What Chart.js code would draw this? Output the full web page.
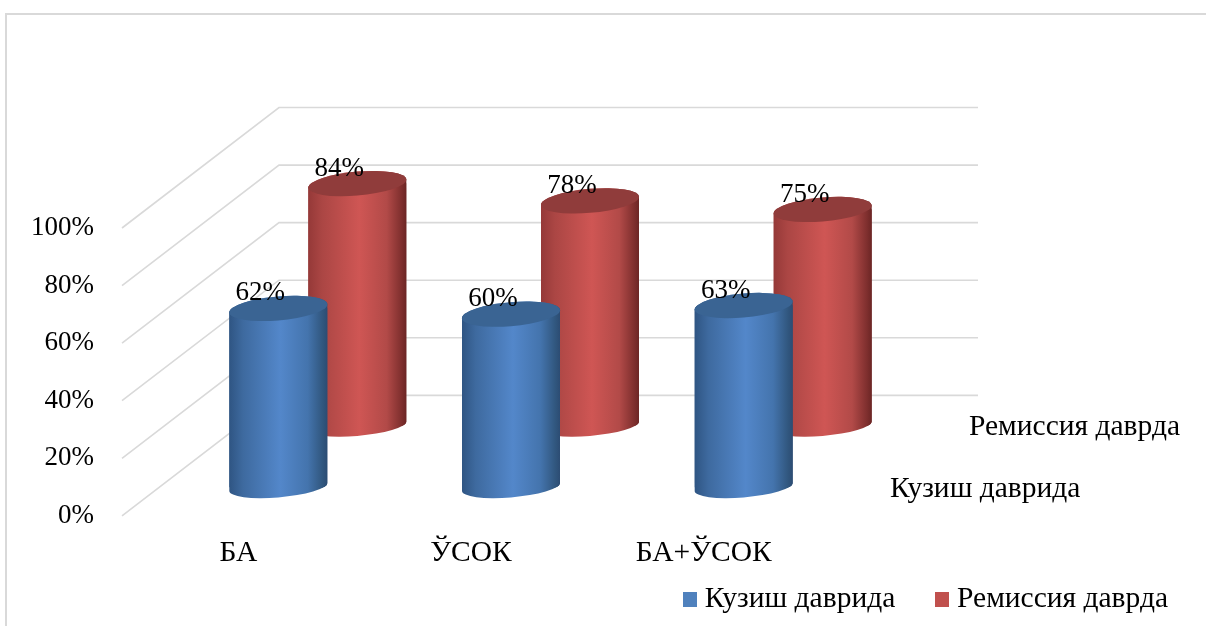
<!DOCTYPE html>
<html><head><meta charset="utf-8">
<style>html,body{margin:0;padding:0;background:#fff}#w{width:1206px;height:626px;position:relative}</style>
<script src="https://cdn.jsdelivr.net/npm/chart.js@4"></script>
</head><body><div id="w"><canvas id="c" width="1206" height="626"></canvas></div>
<script>
const categories = ['БА', 'ЎСОК', 'БА+ЎСОК'];
const seriesNames = ['Кузиш даврида', 'Ремиссия даврда'];
const acuteValues = [62, 60, 63];
const remissionValues = [84, 78, 75];
const axisTicks = [0, 20, 40, 60, 80, 100];

const FONT = '"Liberation Serif","Times New Roman",serif';
const FS = 27, FS_TEXT = 29.5;
const BACK = {dx: 157, dy: -120.5};
const DEPTH = [{dx: 40, dy: -29}, {dx: 119, dy: -90.5}];
const RX = 49, RY = 12, RY_BOTTOM = 10.5, TILT = 4, BAR = 98;
const STOPS = [
  [[0,'#2f5583'],[.14,'#3e6a9f'],[.52,'#5387ca'],[.8,'#4474ad'],[.95,'#31577f'],[1,'#2c4c73']],
  [[0,'#953938'],[.14,'#ab4644'],[.52,'#cf5654'],[.8,'#b24a48'],[.95,'#7f2f2e'],[1,'#6c2625']]
];
const CAPS = ['#3a6493', '#903c3b'];
const LEGEND = ['#4f81bd', '#c0504d'];
const GRID = '#d9d9d9';

function sideGrad(ctx, cx, i) {
  const g = ctx.createLinearGradient(cx - RX, 0, cx + RX, 0);
  STOPS[i].forEach(s => g.addColorStop(s[0], s[1]));
  return g;
}
function bodyPath(ctx, el) {
  ctx.save();
  ctx.transform(1, -TILT / RX, 0, 1, el.x, 0);
  ctx.moveTo(-RX, el.y);
  ctx.ellipse(0, el.y, RX, RY, 0, Math.PI, 2 * Math.PI, false);
  ctx.ellipse(0, el.base, RX, RY_BOTTOM, 0, 0, Math.PI, false);
  ctx.closePath();
  ctx.restore();
}
function legendBox(color) {
  const c = document.createElement('canvas');
  c.width = 14; c.height = 15;
  const x = c.getContext('2d'); x.fillStyle = color; x.fillRect(0, 0, 14, 15);
  return c;
}
const cylinders = {
  id: 'cylinders',
  afterLayout(chart) {
    const x = chart.scales.x;
    x.bottom = x.top + 70;
  },
  beforeDatasetsDraw(chart) {
    const {ctx, chartArea: a, scales: {y}} = chart;
    ctx.save();
    ctx.strokeStyle = GRID; ctx.lineWidth = 2;
    ctx.beginPath();
    ctx.moveTo(6, 626); ctx.lineTo(6, 14); ctx.lineTo(1206, 14);
    ctx.stroke();
    ctx.lineWidth = 1.6;
    axisTicks.forEach(t => {
      const py = y.getPixelForValue(t);
      ctx.beginPath();
      ctx.moveTo(a.left, py);
      ctx.lineTo(a.left + BACK.dx, py + BACK.dy);
      ctx.lineTo(a.right + BACK.dx + 1, py + BACK.dy);
      ctx.stroke();
    });
    ctx.restore();
  },
  beforeDatasetDraw(chart, args) {
    const {ctx} = chart, i = args.index, d = DEPTH[i];
    ctx.save();
    ctx.translate(d.dx, d.dy);
    args.meta.data.forEach(el => {
      ctx.beginPath();
      bodyPath(ctx, el);
      ctx.fillStyle = sideGrad(ctx, el.x, i);
      ctx.fill();
    });
    ctx.beginPath();
    args.meta.data.forEach(el => bodyPath(ctx, el));
    ctx.clip();
  },
  afterDatasetDraw(chart, args) {
    const {ctx} = chart, i = args.index, d = DEPTH[i];
    ctx.restore();
    ctx.save();
    ctx.translate(d.dx, d.dy);
    args.meta.data.forEach(el => {
      ctx.save();
      ctx.transform(1, -TILT / RX, 0, 1, el.x, el.y);
      ctx.beginPath();
      ctx.ellipse(0, 0, RX, RY, 0, 0, 2 * Math.PI);
      ctx.restore();
      ctx.fillStyle = CAPS[i];
      ctx.fill();
    });
    ctx.restore();
  },
  afterDatasetsDraw(chart) {
    const {ctx, chartArea: a} = chart;
    ctx.save();
    ctx.fillStyle = '#000';
    ctx.textBaseline = 'middle';
    ctx.textAlign = 'center';
    ctx.font = FS + 'px ' + FONT;
    chart.data.datasets.forEach((ds, i) => {
      const d = DEPTH[i];
      chart.getDatasetMeta(i).data.forEach((el, k) => {
        ctx.fillText(ds.data[k] + '%', el.x + d.dx - 18, el.y + d.dy - 15);
      });
    });
    ctx.textAlign = 'left';
    ctx.font = FS_TEXT + 'px ' + FONT;
    chart.data.datasets.forEach((ds, i) => {
      const d = DEPTH[i];
      ctx.fillText(ds.label, a.right + d.dx + 30, a.bottom + d.dy + 2);
    });
    ctx.restore();
  }
};

new Chart(document.getElementById('c'), {
  type: 'bar',
  data: {
    labels: categories,
    datasets: [acuteValues, remissionValues].map((vals, i) => ({
      label: seriesNames[i],
      data: vals,
      clip: false,
      grouped: false,
      barThickness: BAR,
      borderWidth: 0,
      backgroundColor: c => {
        const x = c.chart.scales.x;
        if (!x || !c.chart.chartArea || c.dataIndex === undefined) return LEGEND[i];
        return sideGrad(c.chart.ctx, x.getPixelForTick(c.dataIndex), i);
      }
    }))
  },
  options: {
    responsive: false,
    animation: false,
    events: [],
    layout: {padding: {left: 0, top: 228, right: -8, bottom: 1.6}},
    scales: {
      x: {
        grid: {display: false}, border: {display: false},
        ticks: {color: '#000', font: {family: FONT, size: FS_TEXT}, padding: 12, maxRotation: 0, autoSkip: false},
        afterFit(s) { s.height = 23; }
      },
      y: {
        min: 0, max: 100,
        grid: {display: false}, border: {display: false},
        afterBuildTicks(s) { s.ticks = axisTicks.map(v => ({value: v})); },
        ticks: {color: '#000', font: {family: FONT, size: FS}, padding: 20, callback: v => v + '%'},
        afterFit(s) { s.width = 122; }
      },
      spacer: {
        type: 'linear', position: 'right', display: true,
        grid: {display: false}, border: {display: false}, ticks: {display: false},
        afterFit(s) { s.width = 394; }
      }
    },
    plugins: {
      title: {display: false}, tooltip: {enabled: false},
      legend: {
        position: 'bottom', align: 'end',
        labels: {
          color: '#000', font: {family: FONT, size: FS_TEXT}, padding: 46,
          usePointStyle: true, pointStyleWidth: 1,
          generateLabels: chart => chart.data.datasets.map((ds, i) => ({
            text: ds.label, fillStyle: LEGEND[i], strokeStyle: LEGEND[i], lineWidth: 0,
            pointStyle: legendBox(LEGEND[i]), datasetIndex: i, hidden: false
          }))
        }
      }
    }
  },
  plugins: [cylinders]
});
</script></body></html>
